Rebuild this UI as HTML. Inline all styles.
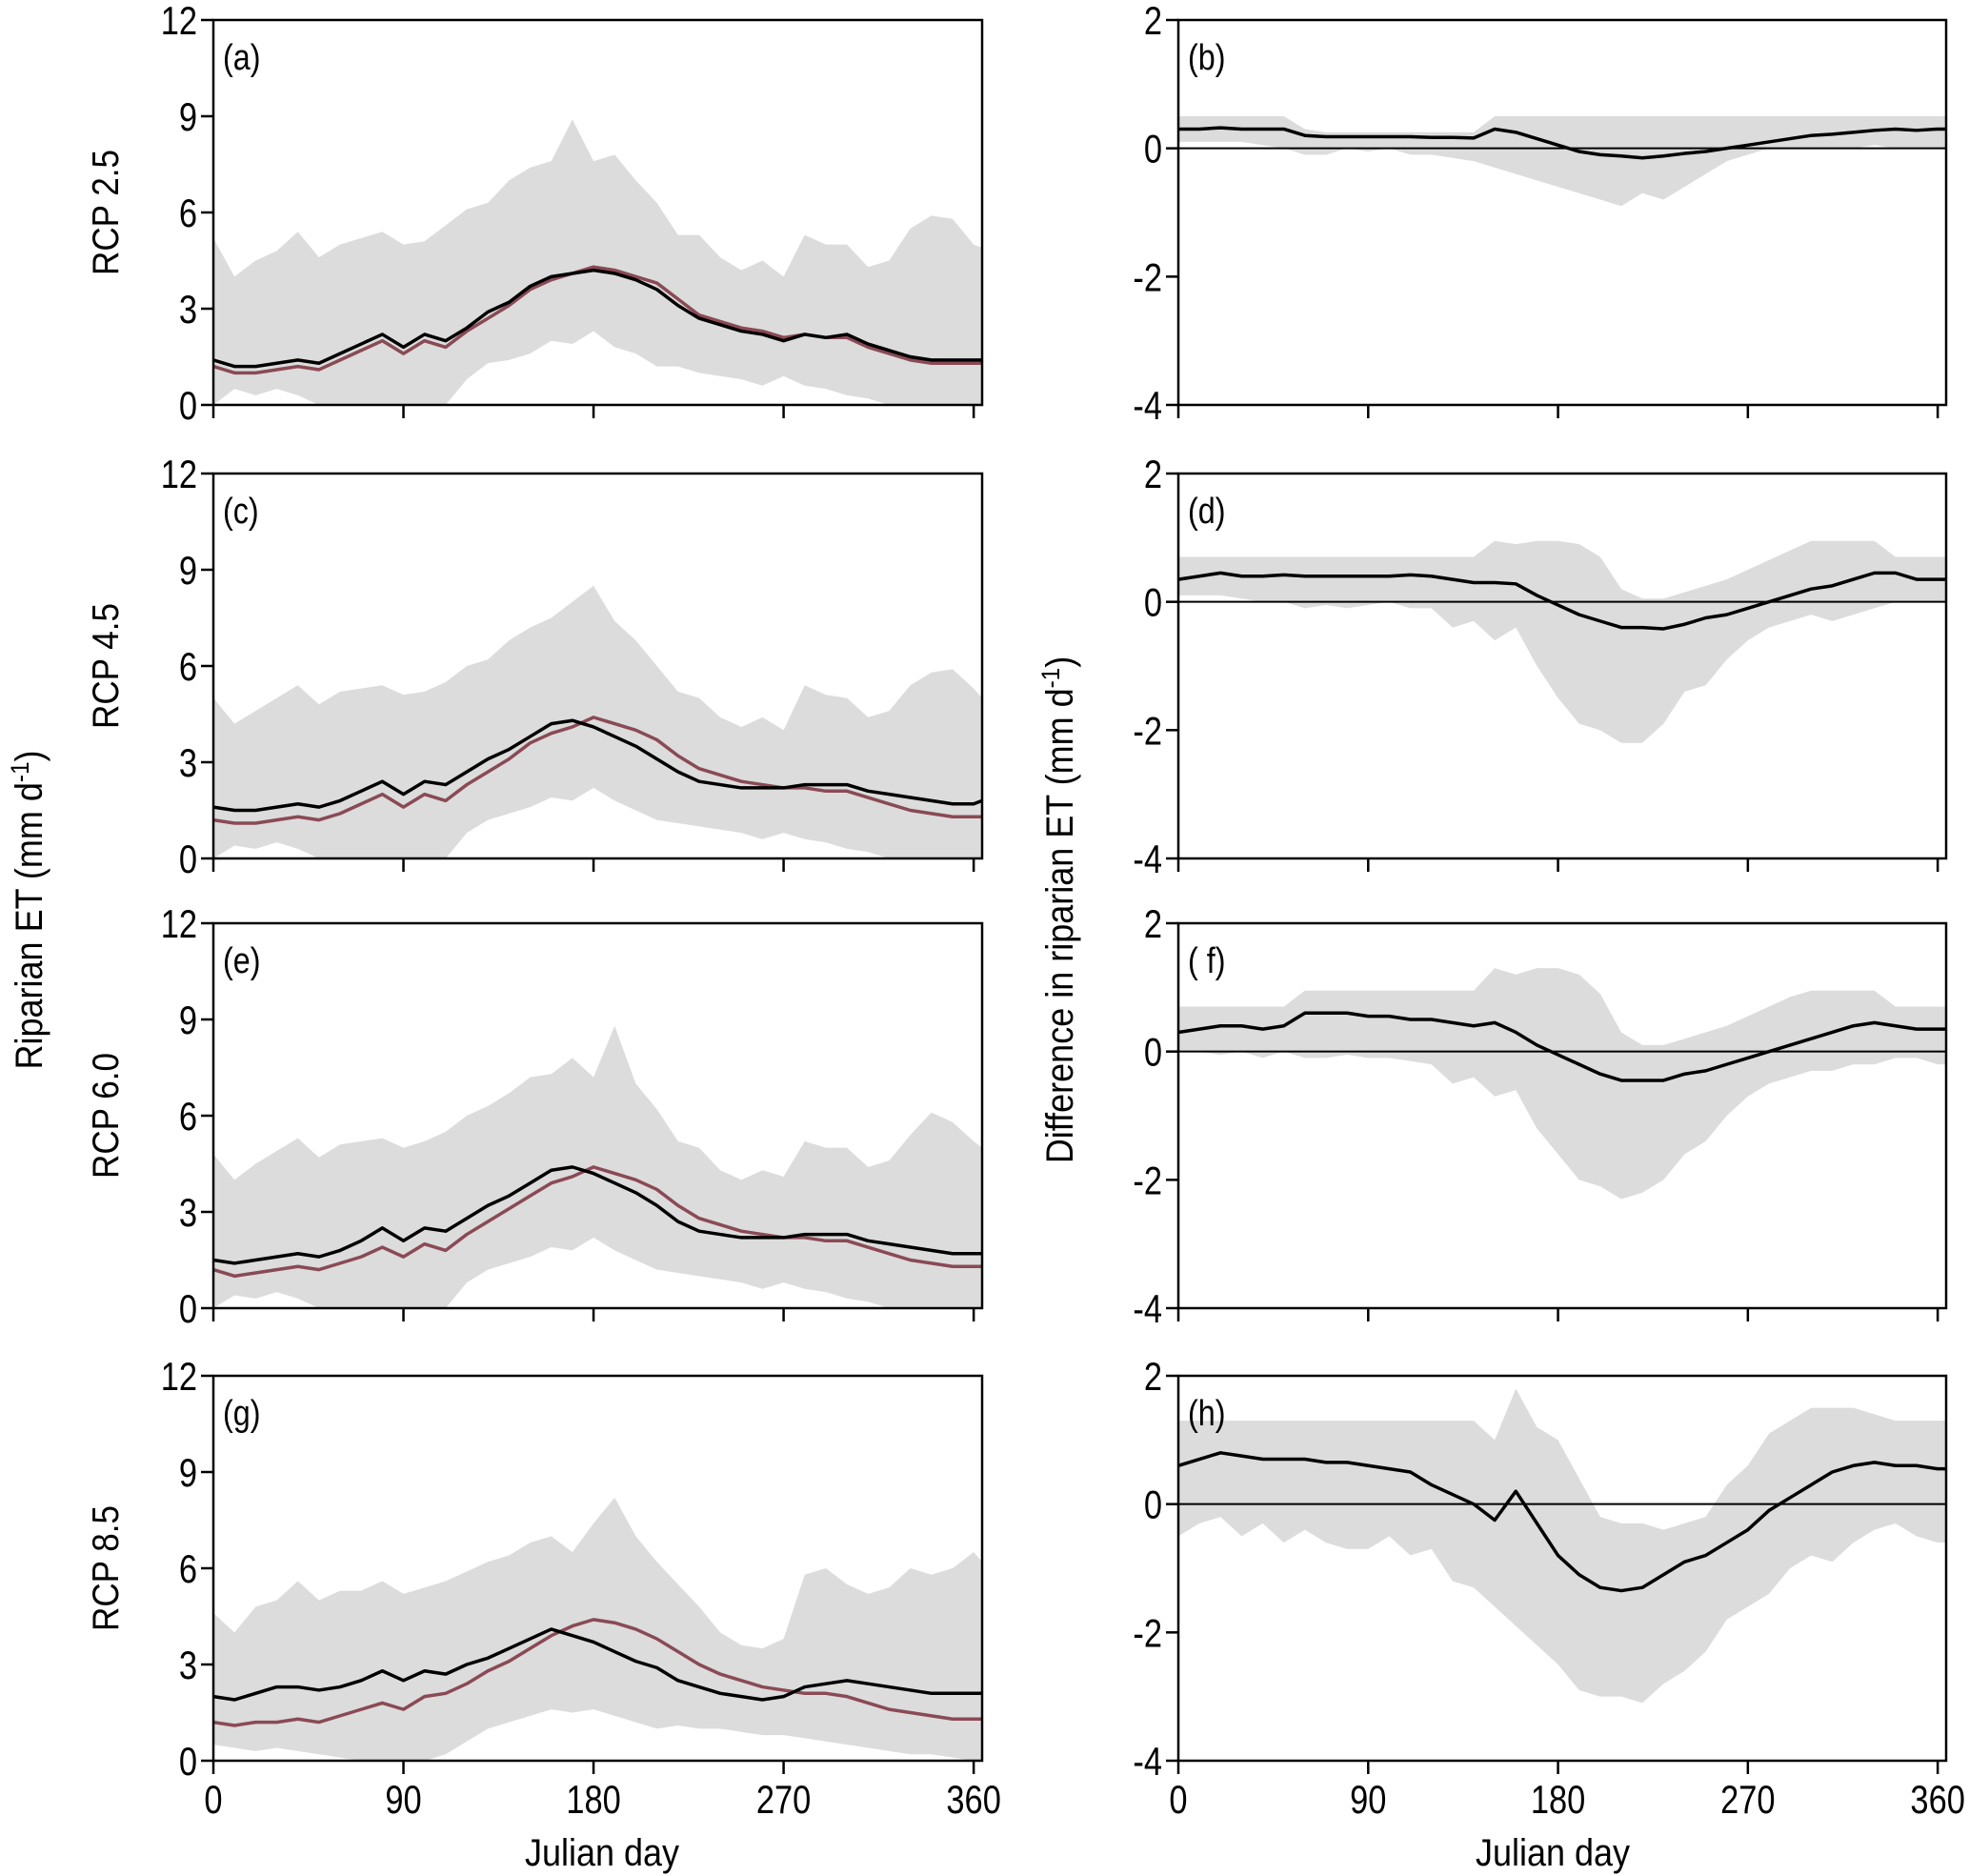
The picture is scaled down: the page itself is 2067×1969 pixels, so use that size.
<!DOCTYPE html>
<html><head><meta charset="utf-8">
<style>
html,body{margin:0;padding:0;background:#fff;}
svg{display:block;font-family:"Liberation Sans",Arial,sans-serif;}
</style></head>
<body>
<svg id="fig" width="2067" height="1969" viewBox="0 0 2067 1969" xmlns="http://www.w3.org/2000/svg">
<text x="0" y="0" transform="translate(44,955) rotate(-90) scale(0.9,1)" text-anchor="middle" font-size="40">Riparian ET (mm d<tspan dy="-14" font-size="27">-1</tspan><tspan dy="14">)</tspan></text>
<text x="0" y="0" transform="translate(1126,955) rotate(-90) scale(0.9,1)" text-anchor="middle" font-size="40">Difference in riparian ET (mm d<tspan dy="-14" font-size="27">-1</tspan><tspan dy="14">)</tspan></text>
<text x="0" y="0" transform="translate(632,1958) scale(0.9,1)" text-anchor="middle" font-size="40">Julian day</text>
<text x="0" y="0" transform="translate(1630,1958) scale(0.9,1)" text-anchor="middle" font-size="40">Julian day</text>
</svg>
<script>
const days=[0,10,20,30,40,50,60,70,80,90,100,110,120,130,140,150,160,170,180,190,200,210,220,230,240,250,260,270,280,290,300,310,320,330,340,350,360,364];
const xTicks=[0,90,180,270,360];
const leftTicks=[0,3,6,9,12];
const rightTicks=[-4,-2,0,2];
const rcpLabels=["RCP 2.5","RCP 4.5","RCP 6.0","RCP 8.5"];

const A_up=[5.2,4.0,4.5,4.8,5.4,4.6,5.0,5.2,5.4,5.0,5.1,5.6,6.1,6.3,7.0,7.4,7.6,8.9,7.6,7.8,7.0,6.3,5.3,5.3,4.6,4.2,4.5,4.0,5.3,5.0,5.0,4.3,4.5,5.5,5.9,5.8,5.0,4.9];
const A_lo=[0,0.5,0.3,0.5,0.3,0,0,0,0,0,0,0,0.8,1.3,1.4,1.6,2.0,1.9,2.3,1.8,1.6,1.2,1.2,1.0,0.9,0.8,0.6,0.9,0.6,0.5,0.3,0.2,0,0,0,0,0,0];
const A_blk=[1.4,1.2,1.2,1.3,1.4,1.3,1.6,1.9,2.2,1.8,2.2,2.0,2.4,2.9,3.2,3.7,4.0,4.1,4.2,4.1,3.9,3.6,3.1,2.7,2.5,2.3,2.2,2.0,2.2,2.1,2.2,1.9,1.7,1.5,1.4,1.4,1.4,1.4];
const A_red=[1.2,1.0,1.0,1.1,1.2,1.1,1.4,1.7,2.0,1.6,2.0,1.8,2.3,2.7,3.1,3.6,3.9,4.1,4.3,4.2,4.0,3.8,3.3,2.8,2.6,2.4,2.3,2.1,2.2,2.1,2.1,1.8,1.6,1.4,1.3,1.3,1.3,1.3];

const C_up=[5.0,4.2,4.6,5.0,5.4,4.8,5.2,5.3,5.4,5.1,5.2,5.5,6.0,6.2,6.8,7.2,7.5,8.0,8.5,7.4,6.8,6.0,5.2,5.0,4.4,4.1,4.4,4.0,5.4,5.1,5.0,4.4,4.6,5.4,5.8,5.9,5.3,5.0];
const C_lo=[0,0.4,0.3,0.5,0.3,0,0,0,0,0,0,0,0.8,1.2,1.4,1.6,1.9,1.8,2.2,1.8,1.5,1.2,1.1,1.0,0.9,0.8,0.6,0.8,0.6,0.5,0.3,0.2,0,0,0,0,0,0];
const C_blk=[1.6,1.5,1.5,1.6,1.7,1.6,1.8,2.1,2.4,2.0,2.4,2.3,2.7,3.1,3.4,3.8,4.2,4.3,4.1,3.8,3.5,3.1,2.7,2.4,2.3,2.2,2.2,2.2,2.3,2.3,2.3,2.1,2.0,1.9,1.8,1.7,1.7,1.8];
const C_red=[1.2,1.1,1.1,1.2,1.3,1.2,1.4,1.7,2.0,1.6,2.0,1.8,2.3,2.7,3.1,3.6,3.9,4.1,4.4,4.2,4.0,3.7,3.2,2.8,2.6,2.4,2.3,2.2,2.2,2.1,2.1,1.9,1.7,1.5,1.4,1.3,1.3,1.3];

const E_up=[4.8,4.0,4.5,4.9,5.3,4.7,5.1,5.2,5.3,5.0,5.2,5.5,6.0,6.3,6.7,7.2,7.3,7.8,7.2,8.8,7.0,6.2,5.2,5.0,4.3,4.0,4.3,4.1,5.2,5.0,5.0,4.4,4.6,5.4,6.1,5.8,5.2,5.0];
const E_lo=[0,0.4,0.3,0.5,0.3,0,0,0,0,0,0,0,0.8,1.2,1.4,1.6,1.9,1.8,2.2,1.8,1.5,1.2,1.1,1.0,0.9,0.8,0.6,0.8,0.6,0.5,0.3,0.2,0,0,0,0,0,0];
const E_blk=[1.5,1.4,1.5,1.6,1.7,1.6,1.8,2.1,2.5,2.1,2.5,2.4,2.8,3.2,3.5,3.9,4.3,4.4,4.2,3.9,3.6,3.2,2.7,2.4,2.3,2.2,2.2,2.2,2.3,2.3,2.3,2.1,2.0,1.9,1.8,1.7,1.7,1.7];
const E_red=[1.2,1.0,1.1,1.2,1.3,1.2,1.4,1.6,1.9,1.6,2.0,1.8,2.3,2.7,3.1,3.5,3.9,4.1,4.4,4.2,4.0,3.7,3.2,2.8,2.6,2.4,2.3,2.2,2.2,2.1,2.1,1.9,1.7,1.5,1.4,1.3,1.3,1.3];

const G_up=[4.6,4.0,4.8,5.0,5.6,5.0,5.3,5.3,5.6,5.2,5.4,5.6,5.9,6.2,6.4,6.8,7.0,6.5,7.4,8.2,7.0,6.2,5.5,4.8,4.0,3.6,3.5,3.8,5.8,6.0,5.5,5.2,5.4,6.0,5.8,6.0,6.5,6.2];
const G_lo=[0.5,0.4,0.3,0.4,0.3,0.2,0.1,0,0,0,0,0.2,0.6,1.0,1.2,1.4,1.6,1.5,1.6,1.4,1.2,1.0,1.1,1.0,1.0,0.9,0.8,0.8,0.7,0.6,0.5,0.4,0.3,0.2,0.2,0.1,0,0];
const G_blk=[2.0,1.9,2.1,2.3,2.3,2.2,2.3,2.5,2.8,2.5,2.8,2.7,3.0,3.2,3.5,3.8,4.1,3.9,3.7,3.4,3.1,2.9,2.5,2.3,2.1,2.0,1.9,2.0,2.3,2.4,2.5,2.4,2.3,2.2,2.1,2.1,2.1,2.1];
const G_red=[1.2,1.1,1.2,1.2,1.3,1.2,1.4,1.6,1.8,1.6,2.0,2.1,2.4,2.8,3.1,3.5,3.9,4.2,4.4,4.3,4.1,3.8,3.4,3.0,2.7,2.5,2.3,2.2,2.1,2.1,2.0,1.8,1.6,1.5,1.4,1.3,1.3,1.3];

const B_up=[0.5,0.5,0.5,0.5,0.5,0.5,0.3,0.25,0.25,0.25,0.25,0.25,0.25,0.25,0.25,0.5,0.5,0.5,0.5,0.5,0.5,0.5,0.5,0.5,0.5,0.5,0.5,0.5,0.5,0.5,0.5,0.5,0.5,0.5,0.5,0.5,0.5,0.5];
const B_lo=[0.1,0.1,0.1,0.1,0.05,0,-0.1,-0.1,0,-0.05,0,-0.1,-0.1,-0.15,-0.2,-0.3,-0.4,-0.5,-0.6,-0.7,-0.8,-0.9,-0.7,-0.8,-0.6,-0.4,-0.2,-0.1,0,0,0,0,0,0.05,0,0,0,0];
const B_blk=[0.3,0.3,0.32,0.3,0.3,0.3,0.2,0.18,0.18,0.18,0.18,0.18,0.17,0.17,0.16,0.3,0.25,0.15,0.05,-0.05,-0.1,-0.12,-0.15,-0.12,-0.08,-0.05,0,0.05,0.1,0.15,0.2,0.22,0.25,0.28,0.3,0.28,0.3,0.3];

const D_up=[0.7,0.7,0.7,0.7,0.7,0.7,0.7,0.7,0.7,0.7,0.7,0.7,0.7,0.7,0.7,0.95,0.9,0.95,0.95,0.9,0.7,0.2,0.05,0.05,0.15,0.25,0.35,0.5,0.65,0.8,0.95,0.95,0.95,0.95,0.7,0.7,0.7,0.7];
const D_lo=[0.1,0.1,0.1,0.05,0,0,-0.1,-0.05,-0.1,-0.05,0,-0.1,-0.1,-0.4,-0.3,-0.6,-0.4,-1.0,-1.5,-1.9,-2.0,-2.2,-2.2,-1.9,-1.4,-1.3,-0.9,-0.6,-0.4,-0.3,-0.2,-0.3,-0.2,-0.1,0,0,0,0];
const D_blk=[0.35,0.4,0.45,0.4,0.4,0.42,0.4,0.4,0.4,0.4,0.4,0.42,0.4,0.35,0.3,0.3,0.28,0.1,-0.05,-0.2,-0.3,-0.4,-0.4,-0.42,-0.35,-0.25,-0.2,-0.1,0,0.1,0.2,0.25,0.35,0.45,0.45,0.35,0.35,0.35];

const F_up=[0.7,0.7,0.7,0.7,0.7,0.7,0.95,0.95,0.95,0.95,0.95,0.95,0.95,0.95,0.95,1.3,1.2,1.3,1.3,1.2,0.9,0.3,0.1,0.1,0.2,0.3,0.4,0.55,0.7,0.85,0.95,0.95,0.95,0.95,0.7,0.7,0.7,0.7];
const F_lo=[0,0,-0.05,0,-0.1,0,-0.1,-0.1,-0.05,-0.1,-0.1,-0.15,-0.2,-0.5,-0.4,-0.7,-0.6,-1.2,-1.6,-2.0,-2.1,-2.3,-2.2,-2.0,-1.6,-1.4,-1.0,-0.7,-0.5,-0.4,-0.3,-0.3,-0.2,-0.2,-0.1,-0.1,-0.2,-0.2];
const F_blk=[0.3,0.35,0.4,0.4,0.35,0.4,0.6,0.6,0.6,0.55,0.55,0.5,0.5,0.45,0.4,0.45,0.3,0.1,-0.05,-0.2,-0.35,-0.45,-0.45,-0.45,-0.35,-0.3,-0.2,-0.1,0,0.1,0.2,0.3,0.4,0.45,0.4,0.35,0.35,0.35];

const H_up=[1.3,1.3,1.3,1.3,1.3,1.3,1.3,1.3,1.3,1.3,1.3,1.3,1.3,1.3,1.3,1.0,1.8,1.2,1.0,0.4,-0.2,-0.3,-0.3,-0.4,-0.3,-0.2,0.3,0.6,1.1,1.3,1.5,1.5,1.5,1.4,1.3,1.3,1.3,1.3];
const H_lo=[-0.5,-0.3,-0.2,-0.5,-0.3,-0.6,-0.4,-0.6,-0.7,-0.7,-0.5,-0.8,-0.7,-1.2,-1.3,-1.6,-1.9,-2.2,-2.5,-2.9,-3.0,-3.0,-3.1,-2.8,-2.6,-2.3,-1.8,-1.6,-1.4,-1.0,-0.8,-0.9,-0.6,-0.4,-0.3,-0.5,-0.6,-0.6];
const H_blk=[0.6,0.7,0.8,0.75,0.7,0.7,0.7,0.65,0.65,0.6,0.55,0.5,0.3,0.15,0.0,-0.25,0.2,-0.3,-0.8,-1.1,-1.3,-1.35,-1.3,-1.1,-0.9,-0.8,-0.6,-0.4,-0.1,0.1,0.3,0.5,0.6,0.65,0.6,0.6,0.55,0.55];

const NS="http://www.w3.org/2000/svg";
const svg=document.getElementById('fig');
function mk(tag,attrs,parent){const e=document.createElementNS(NS,tag);for(const k in attrs)e.setAttribute(k,attrs[k]);(parent||svg).appendChild(e);return e;}

const rowTops=[21,497,969,1444], H=404;
const panels=[
 {lab:"(a)",col:0,row:0,up:A_up,lo:A_lo,blk:A_blk,red:A_red},
 {lab:"(b)",col:1,row:0,up:B_up,lo:B_lo,blk:B_blk},
 {lab:"(c)",col:0,row:1,up:C_up,lo:C_lo,blk:C_blk,red:C_red},
 {lab:"(d)",col:1,row:1,up:D_up,lo:D_lo,blk:D_blk},
 {lab:"(e)",col:0,row:2,up:E_up,lo:E_lo,blk:E_blk,red:E_red},
 {lab:"( f)",col:1,row:2,up:F_up,lo:F_lo,blk:F_blk},
 {lab:"(g)",col:0,row:3,up:G_up,lo:G_lo,blk:G_blk,red:G_red},
 {lab:"(h)",col:1,row:3,up:H_up,lo:H_lo,blk:H_blk}
];
panels.forEach((p,i)=>{
  const x0=p.col?1237:224, x1=p.col?2043:1031, top=rowTops[p.row], bot=top+H;
  const ymin=p.col?-4:0, ymax=p.col?2:12;
  const xs=d=>x0+(d/364)*(x1-x0);
  const ys=v=>bot-(v-ymin)/(ymax-ymin)*H;
  const g=mk('g',{});
  
  
  let d='M'+days.map((dd,k)=>xs(dd)+','+ys(p.up[k])).join('L');
  for(let k=days.length-1;k>=0;k--) d+='L'+xs(days[k])+','+ys(p.lo[k]);
  const band=mk('path',{d:d+'Z',fill:'#dcdcdc',stroke:'none'},g);
  
  
  if(p.col){
    const z=mk('line',{x1:x0,x2:x1,y1:ys(0),y2:ys(0),stroke:'#000','stroke-width':2},g);
    
    
  }
  if(p.red){
    const r=mk('path',{d:'M'+days.map((dd,k)=>xs(dd)+','+ys(p.red[k])).join('L'),fill:'none',stroke:'#8a4a55','stroke-width':3.5,'stroke-linejoin':'round'},g);
    
    
  }
  const b=mk('path',{d:'M'+days.map((dd,k)=>xs(dd)+','+ys(p.blk[k])).join('L'),fill:'none',stroke:'#000','stroke-width':3.5,'stroke-linejoin':'round'},g);
  
  
  const fr=mk('rect',{x:x0,y:top,width:x1-x0,height:H,fill:'none',stroke:'#000','stroke-width':2.5},g);
  
  
  (p.col?rightTicks:leftTicks).forEach(t=>{
    mk('line',{x1:x0-13,x2:x0,y1:ys(t),y2:ys(t),stroke:'#000','stroke-width':2.5},g);
    const tl=mk('text',{x:0,y:0,transform:'translate('+(x0-17)+','+(ys(t)+15)+') scale(0.82,1)','text-anchor':'end','font-size':42},g);
    tl.textContent=t;
    
    
  });
  xTicks.forEach(t=>{
    mk('line',{x1:xs(t),x2:xs(t),y1:bot,y2:bot+14,stroke:'#000','stroke-width':2.5},g);
    if(p.row===3){
      const tl=mk('text',{x:0,y:0,transform:'translate('+xs(t)+','+(bot+55)+') scale(0.82,1)','text-anchor':'middle','font-size':42},g);
      tl.textContent=t;
      
      
    }
  });
  const pl=mk('text',{x:0,y:0,transform:'translate('+(x0+10)+','+(top+52)+') scale(0.85,1)','font-size':38},g);
  pl.textContent=p.lab;
  
  
  if(!p.col){
    const rl=mk('text',{x:0,y:0,transform:'translate(124,'+(top+H/2)+') rotate(-90) scale(0.9,1)','text-anchor':'middle','font-size':39},g);
    rl.textContent=rcpLabels[p.row];
    
    
  }
});
</script>
</body></html>
